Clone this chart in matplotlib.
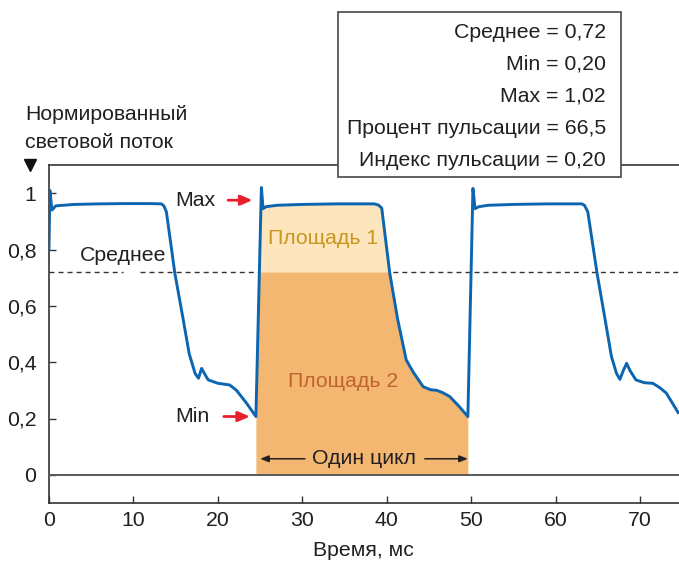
import numpy as np
import matplotlib
matplotlib.use("Agg")
import matplotlib.pyplot as plt
from matplotlib.patches import Rectangle

plt.rcParams['font.family'] = ['Liberation Sans', 'DejaVu Sans']

# ---------------- data ----------------
time_ms = [0, 0.1, 0.35, 0.8, 3, 6, 9, 12, 13.3, 13.6, 13.9, 14.9, 15.9, 16.6, 17.3,
           17.7, 18.07, 18.4, 18.85, 20.0, 21.4, 22.2, 23.4, 24.5,
           25.15, 25.35, 25.7, 27, 30, 34, 38.5, 39.0, 39.4, 40.35, 41.3, 42.3, 43.1,
           44.3, 45.2, 45.9, 46.6, 47.45, 48.5, 49.6,
           50.2, 50.45, 50.9, 52, 55, 59, 63.1, 63.4, 63.8, 64.9, 65.8, 66.6, 67.2,
           67.6, 68.0, 68.4, 68.8, 69.5, 70.5, 71.5, 72.3, 73.1, 74.5]
flux = [0.80, 1.01, 0.94, 0.955, 0.96, 0.962, 0.963, 0.963, 0.962, 0.955, 0.934, 0.716,
        0.55, 0.43, 0.36, 0.343, 0.378, 0.36, 0.337, 0.325, 0.319, 0.30, 0.254, 0.207,
        1.02, 0.945, 0.952, 0.957, 0.96, 0.962, 0.962, 0.958, 0.947, 0.716, 0.55, 0.408,
        0.366, 0.313, 0.302, 0.30, 0.292, 0.278, 0.245, 0.207,
        1.017, 0.945, 0.952, 0.957, 0.96, 0.962, 0.962, 0.957, 0.934, 0.715, 0.56, 0.42,
        0.36, 0.339, 0.37, 0.396, 0.37, 0.337, 0.327, 0.325, 0.31, 0.29, 0.221]

mean_value = 0.72
cycle_start = 24.5
cycle_end = 49.6

stats_labels = ["Среднее = 0,72", "Min = 0,20", "Max = 1,02",
                "Процент пульсации = 66,5", "Индекс пульсации = 0,20"]

x_ticks = [0, 10, 20, 30, 40, 50, 60, 70]
x_tick_labels = ["0", "10", "20", "30", "40", "50", "60", "70"]
y_ticks = [0, 0.2, 0.4, 0.6, 0.8, 1.0]
y_tick_labels = ["0", "0,2", "0,4", "0,6", "0,8", "1"]

# ---------------- figure ----------------
W, H = 679, 565
fig = plt.figure(figsize=(W / 100, H / 100), dpi=100)
ax = fig.add_axes([49 / W, 62 / H, 1 - 49 / W, (503 - 165) / H])

t = np.array(time_ms)
y = np.array(flux)
mask = (t >= cycle_start) & (t <= cycle_end)
ts, ys = t[mask], y[mask]

dark = '#F4B772'
light = '#FDE5BE'
blue = '#0C65B1'
fs = 15.3
txt = '#231F20'

# mean dashed line (with small gap near label)
ax.plot([0, 8.8], [mean_value, mean_value], color='#333333', lw=1.0,
        dashes=(3.6, 2.9), zorder=1)
ax.plot([10.8, 74.6], [mean_value, mean_value], color='#333333', lw=1.0,
        dashes=(3.6, 2.9), zorder=1)

ax.fill_between(ts, 0, ys, color=dark, lw=0, zorder=2)
ax.fill_between(ts, mean_value, ys, where=ys > mean_value, interpolate=True,
                color=light, lw=0, zorder=2)

ax.axhline(0, color='#5a5a5a', lw=1.4, zorder=3)
ax.plot(t, y, color=blue, lw=2.1, zorder=4, solid_joinstyle='round')

ax.set_xlim(0, 74.6)
ax.set_ylim(-0.1, 1.1)
ax.set_xticks(x_ticks)
ax.set_xticklabels(x_tick_labels)
ax.set_yticks(y_ticks)
ax.set_yticklabels(y_tick_labels)
ax.tick_params(direction='in', length=5, width=1, colors='#333333',
               labelcolor=txt, labelsize=fs)
ax.tick_params(axis='x', pad=6)
ax.tick_params(axis='y', pad=9)
for s in ['left', 'bottom', 'top']:
    ax.spines[s].set_color('#333333')
    ax.spines[s].set_linewidth(1.2)
ax.spines['right'].set_visible(False)

red_arrow = dict(arrowstyle='-|>,head_length=0.7,head_width=0.3',
                 color='#E8202A', lw=2.0, shrinkA=0, shrinkB=0)
blk_arrow = dict(arrowstyle='-|>,head_length=0.5,head_width=0.2',
                 color='#222222', lw=1.1, shrinkA=0, shrinkB=0)

# annotations
ax.text(3.7, 0.78, "Среднее", fontsize=fs, color=txt, va='center', ha='left', zorder=5)
ax.text(14.9, 0.975, "Max", fontsize=fs, color=txt, va='center', ha='left', zorder=5)
ax.annotate("", xy=(24.1, 0.975), xytext=(21.2, 0.975), arrowprops=red_arrow, zorder=5)
ax.text(15.0, 0.207, "Min", fontsize=fs, color=txt, va='center', ha='left', zorder=5)
ax.annotate("", xy=(23.8, 0.207), xytext=(20.7, 0.207), arrowprops=red_arrow, zorder=5)

ax.text(32.4, 0.84, "Площадь 1", fontsize=fs, color='#C8961E', ha='center', va='center', zorder=5)
ax.text(34.8, 0.33, "Площадь 2", fontsize=fs, color='#C0642A', ha='center', va='center', zorder=5)

ax.text(37.3, 0.057, "Один цикл", fontsize=fs, color=txt, ha='center', va='center', zorder=5)
ax.annotate("", xy=(25.0, 0.057), xytext=(30.3, 0.057), arrowprops=blk_arrow, zorder=5)
ax.annotate("", xy=(49.6, 0.057), xytext=(44.5, 0.057), arrowprops=blk_arrow, zorder=5)

# axis arrow marker and labels
ax.plot([-0.030], [1.0], marker='v', markersize=8, color='#111111',
        transform=ax.transAxes, clip_on=False)
fig.text(25 / W, 1 - 115 / H, "Нормированный", fontsize=fs, color=txt, va='center', ha='left')
fig.text(25 / W, 1 - 142 / H, "световой поток", fontsize=fs, color=txt, va='center', ha='left')
fig.text(363 / W, 1 - 551 / H, "Время, мс", fontsize=fs, color=txt, va='center', ha='center')

# stats box
box = Rectangle((338 / W, 1 - 177 / H), (621 - 338) / W, (177 - 12) / H,
                transform=fig.transFigure, facecolor='white', edgecolor='#555555',
                lw=1.3, zorder=2)
fig.patches.append(box)
for lbl, py in zip(stats_labels, [33, 64, 96, 128, 160]):
    fig.text(606 / W, 1 - py / H, lbl, fontsize=fs, color=txt,
             ha='right', va='center', zorder=3)

fig.savefig("out.png", dpi=100)
